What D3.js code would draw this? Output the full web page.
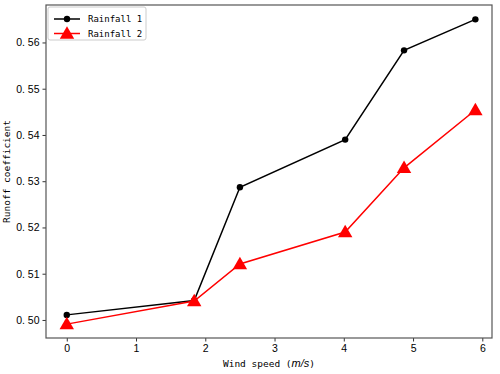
<!DOCTYPE html>
<html>
<head>
<meta charset="utf-8">
<script src="https://cdn.jsdelivr.net/npm/d3@7"></script>
<style>
  body { margin: 0; background: #fff; }
  svg text { fill: #000; }
</style>
</head>
<body>
<svg id="chart" width="500" height="374"></svg>
<script>
// data
const windSpeed = [0, 1.84, 2.5, 4.02, 4.87, 5.9];
const rainfall1 = [0.5011, 0.5042, 0.5287, 0.5390, 0.5583, 0.5650];
const rainfall2 = [0.4991, 0.5041, 0.5121, 0.5190, 0.5329, 0.5454];
const xTicks = [0, 1, 2, 3, 4, 5, 6];
const yTicks = [0.50, 0.51, 0.52, 0.53, 0.54, 0.55, 0.56];

const margin = { top: 5, right: 8, bottom: 36, left: 46 };
const width = 500 - margin.left - margin.right;
const height = 374 - margin.top - margin.bottom;
const mono = "'DejaVu Sans Mono', 'Liberation Mono', monospace";
const sans = "'Liberation Sans', Arial, sans-serif";

const svg = d3.select("#chart");
const g = svg.append("g").attr("transform", `translate(${margin.left},${margin.top})`);

const x = d3.scaleLinear().domain([-0.3, 6.14]).range([0, width]);
const y = d3.scaleLinear().domain([0.4961, 0.5681]).range([height, 0]);

// axes
const xAxis = g.append("g")
  .attr("transform", `translate(0,${height})`)
  .call(d3.axisBottom(x).tickValues(xTicks).tickFormat(d3.format("d")).tickSize(3.5).tickPadding(3));
const yAxis = g.append("g")
  .call(d3.axisLeft(y).tickValues(yTicks).tickFormat(d => d3.format(".2f")(d).replace(".", ".\u00a0")).tickSize(3.5).tickPadding(3));
[xAxis, yAxis].forEach(a => {
  a.selectAll("text").style("font-family", sans).style("font-size", "10.5px").attr("fill", "#111");
  a.select(".domain").remove();
  a.selectAll("line").attr("stroke", "#333");
});

g.append("rect")
  .attr("width", width).attr("height", height)
  .attr("fill", "none").attr("stroke", "#555").attr("stroke-width", 1.2);

// lines
const series = [
  { name: "Rainfall 1", values: rainfall1, color: "#000", marker: "circle" },
  { name: "Rainfall 2", values: rainfall2, color: "#ff0000", marker: "triangle" }
];
const line = d3.line().x(d => x(d[0])).y(d => y(d[1]));
const tri = d3.symbol().type(d3.symbolTriangle).size(90);

series.forEach(s => {
  const pts = windSpeed.map((w, i) => [w, s.values[i]]);
  g.append("path").datum(pts)
    .attr("d", line).attr("fill", "none")
    .attr("stroke", s.color).attr("stroke-width", 1.5);
  if (s.marker === "circle") {
    g.selectAll(null).data(pts).enter().append("circle")
      .attr("cx", d => x(d[0])).attr("cy", d => y(d[1]))
      .attr("r", 3.2).attr("fill", s.color);
  } else {
    g.selectAll(null).data(pts).enter().append("path")
      .attr("d", tri)
      .attr("transform", d => `translate(${x(d[0])},${y(d[1]) + 1})`)
      .attr("fill", s.color);
  }
});

// legend
const legend = svg.append("g").attr("transform", "translate(48,7)");
legend.append("rect")
  .attr("width", 98).attr("height", 33).attr("rx", 2)
  .attr("fill", "#fff").attr("stroke", "#ccc");
series.forEach((s, i) => {
  const ly = 12 + i * 14.5;
  legend.append("line")
    .attr("x1", 6).attr("x2", 32).attr("y1", ly).attr("y2", ly)
    .attr("stroke", s.color).attr("stroke-width", 1.5);
  if (s.marker === "circle") {
    legend.append("circle").attr("cx", 19).attr("cy", ly).attr("r", 3.2).attr("fill", s.color);
  } else {
    legend.append("path").attr("d", tri).attr("transform", `translate(19,${ly + 1})`).attr("fill", s.color);
  }
  legend.append("text")
    .attr("x", 40).attr("y", ly).attr("dy", "0.35em")
    .style("font-family", mono).style("font-size", "9px")
    .text(s.name);
});

// axis titles
const xt = svg.append("text")
  .attr("x", margin.left + width / 2).attr("y", 367)
  .attr("text-anchor", "middle")
  .style("font-family", mono).style("font-size", "9.5px");
xt.append("tspan").text("Wind speed\u00a0(");
xt.append("tspan").style("font-style", "italic").style("font-family", sans).style("font-size", "11px").text("m/s");
xt.append("tspan").text(")");

svg.append("text")
  .attr("transform", `translate(10,${margin.top + height / 2}) rotate(-90)`)
  .attr("text-anchor", "middle")
  .style("font-family", mono).style("font-size", "9.5px")
  .text("Runoff coefficient");
</script>
</body>
</html>
